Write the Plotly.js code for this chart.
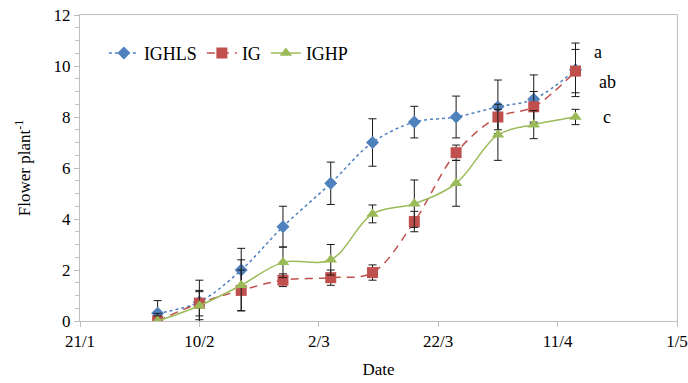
<!DOCTYPE html>
<html>
<head>
<meta charset="utf-8">
<script src="https://cdn.plot.ly/plotly-3.0.1.min.js"></script>
<style>html,body{margin:0;padding:0;background:#fff;}#chart{width:688px;height:383px;}</style>
</head>
<body>
<div id="chart"></div>
<script>
const dates = ["2019-02-03","2019-02-10","2019-02-17","2019-02-24","2019-03-04","2019-03-11","2019-03-18","2019-03-25","2019-04-01","2019-04-07","2019-04-14"];
const ighls = [0.3, 0.75, 2.0, 3.7, 5.4, 7.0, 7.8, 8.0, 8.4, 8.7, 9.85];
const ighlsErr = [0.5, 0.85, 0.85, 0.8, 0.83, 0.93, 0.62, 0.82, 1.05, 0.95, 1.05];
const ig = [0.0, 0.7, 1.2, 1.6, 1.7, 1.9, 3.9, 6.6, 8.0, 8.4, 9.8];
const igErr = [0.3, 0.5, 0.8, 0.25, 0.3, 0.3, 0.4, 0.3, 0.5, 0.6, 0.85];
const ighp = [0.0, 0.6, 1.4, 2.3, 2.4, 4.2, 4.6, 5.4, 7.3, 7.7, 8.0];
const ighpErr = [0.2, 0.55, 1.0, 0.6, 0.6, 0.35, 0.93, 0.9, 1.0, 0.55, 0.3];
const tickDates = ["2019-01-21","2019-02-10","2019-03-02","2019-03-22","2019-04-11","2019-05-01"];
const tickLabels = ["21/1","10/2","2/3","22/3","11/4","1/5"];
const letters = ["a","ab","c"];

const dayMs = 86400000;
function errX(){ return {type:'constant', value:0.85*dayMs, color:'#404040', thickness:1, width:3}; }
function errY(arr){ return {type:'data', array:arr, visible:true, color:'#1a1a1a', thickness:1, width:4}; }

const traces = [
  {x:dates, y:ighls, name:'IGHLS', mode:'lines+markers', type:'scatter',
   line:{color:'#4F81BD', width:1.5, dash:'dot', shape:'spline', smoothing:1},
   marker:{symbol:'diamond', size:10, color:'#4F81BD'},
   error_y:errY(ighlsErr), error_x:errX()},
  {x:dates, y:ig, name:'IG', mode:'lines+markers', type:'scatter',
   line:{color:'#C0504D', width:1.5, dash:'8px,6px', shape:'spline', smoothing:1},
   marker:{symbol:'square', size:11, color:'#C0504D'},
   error_y:errY(igErr), error_x:errX()},
  {x:dates, y:ighp, name:'IGHP', mode:'lines+markers', type:'scatter',
   line:{color:'#9BBB59', width:1.5, shape:'spline', smoothing:1},
   marker:{symbol:'triangle-up', size:11, color:'#9BBB59'},
   error_y:errY(ighpErr), error_x:errX()}
];

const FAM = 'Liberation Serif';
function f(size){ return {family:FAM, size:size, color:'#000'}; }

const layout = {
  width:688, height:383,
  margin:{l:80, r:11, t:15, b:62},
  paper_bgcolor:'#fff', plot_bgcolor:'#fff',
  font:f(16),
  showlegend:true,
  legend:{orientation:'h', x:0.04, y:0.875, xanchor:'left', yanchor:'middle',
          font:f(18), bgcolor:'rgba(0,0,0,0)', itemwidth:30},
  xaxis:{type:'date', range:["2019-01-21","2019-05-01"], tickvals:tickDates, ticktext:tickLabels,
         showgrid:false, zeroline:false, showline:true, linecolor:'#bfbfbf', linewidth:1, mirror:true,
         ticks:'outside', ticklen:5, tickcolor:'#bfbfbf', tickfont:f(17),
         title:{text:'Date', font:f(17), standoff:12}},
  yaxis:{range:[0,12], dtick:2, showgrid:false, zeroline:false, showline:true, linecolor:'#bfbfbf', linewidth:1, mirror:true,
         ticks:'outside', ticklen:5, tickcolor:'#bfbfbf', tickfont:f(17),
         minor:{dtick:0.5, ticks:'outside', ticklen:4, tickcolor:'#bfbfbf', showgrid:false},
         title:{text:'Flower plant<sup>-1</sup>', font:f(17), standoff:18}},
  annotations:[
    {xref:'paper', yref:'y', x:0.858, y:10.56, xanchor:'left', yanchor:'middle', text:letters[0], showarrow:false, font:f(18)},
    {xref:'paper', yref:'y', x:0.866, y:9.37, xanchor:'left', yanchor:'middle', text:letters[1], showarrow:false, font:f(18)},
    {xref:'paper', yref:'y', x:0.873, y:8.01, xanchor:'left', yanchor:'middle', text:letters[2], showarrow:false, font:f(18)}
  ]
};

Plotly.newPlot('chart', traces, layout, {staticPlot:true, displayModeBar:false});
</script>
</body>
</html>
